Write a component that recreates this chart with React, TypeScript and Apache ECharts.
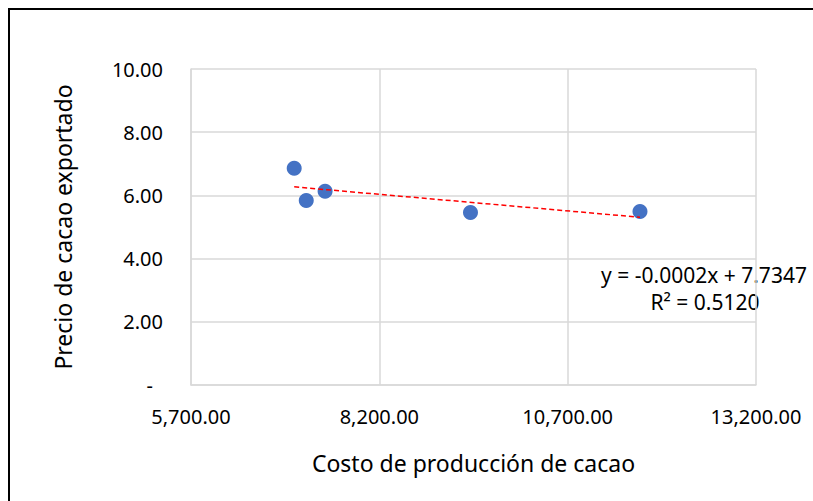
import React, { useEffect, useRef } from "react";
import * as echarts from "echarts";

const costs = [7070, 7230, 7480, 9410, 11660];
const prices = [6.86, 5.84, 6.13, 5.46, 5.49];
const equationLines = ["y = -0.0002x + 7.7347", "R² = 0.5120"];
const xTitle = "Costo de producción de cacao";
const yTitle = "Precio de cacao exportado";

function regression(xs: number[], ys: number[]) {
  const n = xs.length;
  const mx = xs.reduce((a, b) => a + b, 0) / n;
  const my = ys.reduce((a, b) => a + b, 0) / n;
  let sxy = 0, sxx = 0;
  for (let i = 0; i < n; i++) {
    sxy += (xs[i] - mx) * (ys[i] - my);
    sxx += (xs[i] - mx) * (xs[i] - mx);
  }
  const slope = sxy / sxx;
  return { slope, intercept: my - slope * mx };
}

const FONT = "Noto Sans";

export default function App() {
  const ref = useRef<HTMLDivElement>(null);
  useEffect(() => {
    if (!ref.current) return;
    const chart = echarts.init(ref.current, null, { renderer: "svg" });
    const { slope, intercept } = regression(costs, prices);
    const x0 = Math.min(...costs);
    const x1 = Math.max(...costs);
    const trend = [
      [x0, slope * x0 + intercept],
      [x1, slope * x1 + intercept],
    ];
    chart.setOption({
      animation: false,
      backgroundColor: "#ffffff",
      grid: { left: 191, top: 69, right: 57, bottom: 116, containLabel: false },
      xAxis: {
        type: "value",
        min: 5700,
        max: 13200,
        interval: 2500,
        name: xTitle,
        nameLocation: "middle",
        nameGap: 66,
        nameTextStyle: { fontFamily: FONT, fontSize: 23, color: "#000", verticalAlign: "top" },
        axisLine: { show: true, lineStyle: { color: "#d9d9d9", width: 1.5 } },
        axisTick: { show: false },
        splitLine: { show: true, lineStyle: { color: "#d9d9d9", width: 1.5 } },
        axisLabel: {
          margin: 21,
          fontFamily: FONT,
          fontSize: 20,
          color: "#000",
          formatter: (v: number) =>
            v.toLocaleString("en-US", { minimumFractionDigits: 2, maximumFractionDigits: 2 }),
        },
      },
      yAxis: {
        type: "value",
        min: 0,
        max: 10,
        interval: 2,
        name: yTitle,
        nameLocation: "middle",
        nameGap: 117,
        nameRotate: 90,
        nameTextStyle: { fontFamily: FONT, fontSize: 23, color: "#000" },
        axisLine: { show: true, lineStyle: { color: "#d9d9d9", width: 1.5 } },
        axisTick: { show: false },
        splitLine: { show: true, lineStyle: { color: "#d9d9d9", width: 1.5 } },
        axisLabel: {
          margin: 28,
          fontFamily: FONT,
          fontSize: 20,
          color: "#000",
          formatter: (v: number) => (v === 0 ? "{d|-}" : v.toFixed(2)),
          rich: { d: { fontFamily: FONT, fontSize: 20, color: "#000", padding: [0, 10, 0, 0] } },
        },
      },
      series: [
        {
          type: "line",
          data: trend,
          symbol: "none",
          lineStyle: { color: "#ff0000", width: 1.5, type: [5, 3] },
          z: 3,
        },
        {
          type: "scatter",
          data: costs.map((c, i) => [c, prices[i]]),
          symbol: "circle",
          symbolSize: 15,
          itemStyle: { color: "#4472C4", opacity: 1 },
          z: 2,
        },
      ],
      graphic: [
        { type: "line", shape: { x1: 8, y1: 9, x2: 813, y2: 9 }, style: { stroke: "#000", lineWidth: 2 } },
        { type: "line", shape: { x1: 9, y1: 8, x2: 9, y2: 501 }, style: { stroke: "#000", lineWidth: 2 } },
        {
          type: "text",
          x: 704,
          y: 275,
          style: {
            text: equationLines[0],
            fontFamily: FONT,
            fontSize: 21,
            fill: "#000",
            textAlign: "center",
            textVerticalAlign: "middle",
          },
        },
        {
          type: "text",
          x: 705,
          y: 302,
          style: {
            text: equationLines[1],
            fontFamily: FONT,
            fontSize: 21,
            fill: "#000",
            textAlign: "center",
            textVerticalAlign: "middle",
          },
        },
      ],
    });
    return () => chart.dispose();
  }, []);
  return (
    <div
      ref={ref}
      style={{ position: "fixed", left: 0, top: 0, width: 813, height: 501, background: "#fff" }}
    />
  );
}
